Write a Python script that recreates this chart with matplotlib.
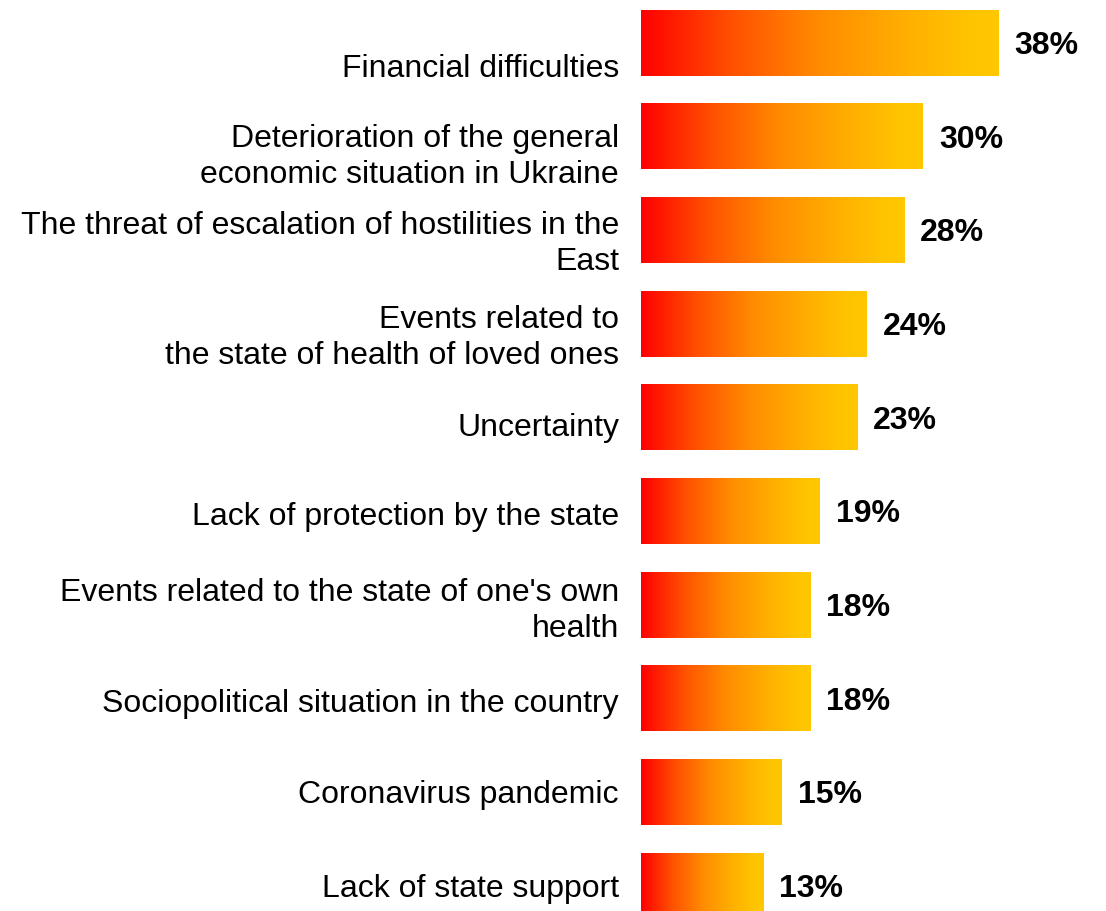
import numpy as np
import matplotlib
matplotlib.use("Agg")
import matplotlib.pyplot as plt
from matplotlib.colors import LinearSegmentedColormap
from matplotlib import transforms

categories = [
    "Financial difficulties",
    "Deterioration of the general\neconomic situation in Ukraine",
    "The threat of escalation of hostilities in the\nEast",
    "Events related to\nthe state of health of loved ones",
    "Uncertainty",
    "Lack of protection by the state",
    "Events related to the state of one's own\nhealth",
    "Sociopolitical situation in the country",
    "Coronavirus pandemic",
    "Lack of state support",
]
values = [38, 30, 28, 24, 23, 19, 18, 18, 15, 13]

# vertical nudge (pixels, downward) for each category label
label_shift_px = [25, 19, 13, 13, 9, 4.5, 5, 4.5, 2, 2]

W, H, DPI = 1106, 912, 100
fig = plt.figure(figsize=(W / DPI, H / DPI), dpi=DPI)
plt.rcParams["font.family"] = ["Liberation Sans", "DejaVu Sans"]

left_px = 641
ax = fig.add_axes([left_px / W, 0, 1 - left_px / W, 1])
ax.set_axis_off()

px_per_unit = 9.4
step_px = (886 - 43) / 9
xlim = (0, (W - left_px) / px_per_unit)
ylim = (9 + (H - 887) / step_px, -44 / step_px)

grad = LinearSegmentedColormap.from_list(
    "heat",
    [(0.0, "#FF0000"), (0.25, "#FF5000"), (0.5, "#FF8C00"),
     (0.75, "#FFB000"), (0.92, "#FFC400"), (1.0, "#FFC800")],
)
ramp = np.linspace(0, 1, 256).reshape(1, -1)
bar_h = 0.694

for i, v in enumerate(values):
    ax.imshow(ramp, cmap=grad, aspect="auto", interpolation="bicubic",
              extent=[0, v, i + bar_h / 2, i - bar_h / 2], zorder=2)
    off = transforms.offset_copy(ax.transData, fig=fig, x=16, y=-2, units="dots")
    ax.text(v, i, f"{v}%", transform=off, ha="left", va="center",
            fontsize=23, fontweight="bold", color="black")
    loff = transforms.offset_copy(ax.transData, fig=fig, x=-22,
                                  y=-label_shift_px[i], units="dots")
    ax.text(0, i, categories[i], transform=loff, ha="right", va="center",
            fontsize=23, color="black", linespacing=1.25)

ax.set_xlim(*xlim)
ax.set_ylim(*ylim)

fig.savefig("out.png", dpi=DPI, facecolor="white")
